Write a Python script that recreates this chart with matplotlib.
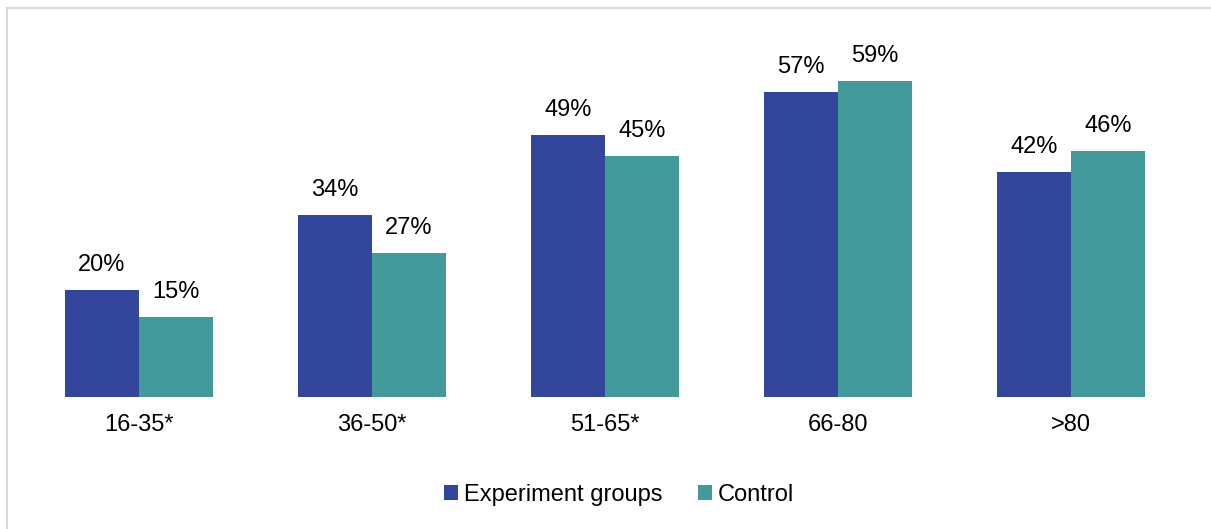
import matplotlib.pyplot as plt
import numpy as np
from matplotlib.patches import Rectangle

plt.rcParams['font.family'] = ['Liberation Sans', 'DejaVu Sans']

# age groups (asterisk = significant difference)
categorias = ['16-35*', '36-50*', '51-65*', '66-80', '>80']
experimento = [20, 34, 49, 57, 42]
control = [15, 27, 45, 59, 46]

azul = '#32469b'
verde = '#429b9a'

fig = plt.figure(figsize=(12.11, 5.29), dpi=100)
ax = fig.add_axes([0.0186, 0.2495, 0.962, 0.708])

x = np.arange(len(categorias))
ancho = 0.318
barras1 = ax.bar(x - ancho / 2, experimento, ancho, color=azul, label='Experiment groups')
barras2 = ax.bar(x + ancho / 2, control, ancho, color=verde, label='Control')

for barras, valores in ((barras1, experimento), (barras2, control)):
    for b, v in zip(barras, valores):
        ax.annotate(f'{v}%', (b.get_x() + b.get_width() / 2, v),
                    xytext=(0, 10), textcoords='offset points',
                    ha='center', va='bottom', fontsize=17)

ax.set_xlim(-0.5, len(categorias) - 0.5)
ax.set_ylim(0, 70)
ax.set_xticks(x)
ax.set_xticklabels(categorias, fontsize=17)
ax.tick_params(axis='x', length=0, pad=12)
ax.set_yticks([])
for s in ax.spines.values():
    s.set_visible(False)

fig.legend(loc='center', bbox_to_anchor=(0.511, 0.064), ncol=2, frameon=False,
           fontsize=17, handlelength=0.6, handleheight=0.6, handletextpad=0.25,
           columnspacing=1.5)

# light grey frame around the chart
fig.patches.append(Rectangle((7 / 1211, -0.1), 1.2, (529 - 8) / 529 + 0.1,
                             transform=fig.transFigure, fill=False,
                             edgecolor='#d9d9d9', linewidth=1.5))

fig.savefig('out.png', dpi=100)
